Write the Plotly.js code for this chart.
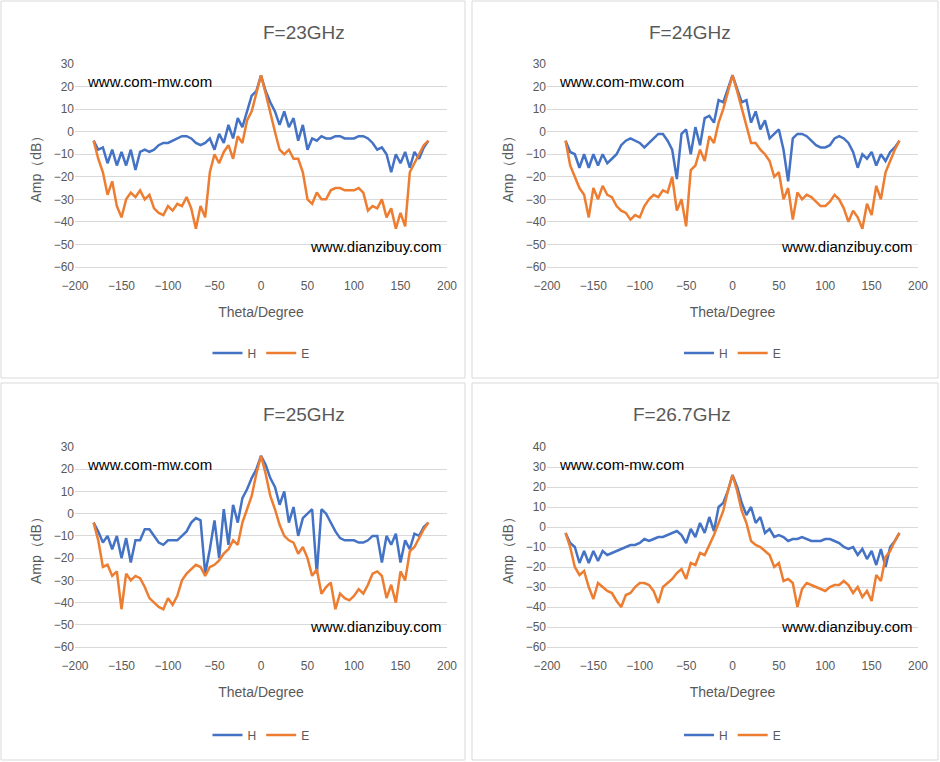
<!DOCTYPE html>
<html><head><meta charset="utf-8">
<script src="https://cdn.plot.ly/plotly-3.0.1.min.js"></script>
<style>body{margin:0;background:#fff}#c{width:940px;height:762px}</style>
</head><body><div id="c"></div>
<script>
const theta=[];for(let t=-180;t<=180;t+=5)theta.push(t);
const titles=["F=23GHz","F=24GHz","F=25GHz","F=26.7GHz"];
const h23=[-4,-8,-7,-14,-8,-15,-9,-15,-8,-17,-9,-8,-9,-8,-6,-5,-5,-4,-3,-2,-2,-3,-5,-6,-5,-3,-8,-1,-5,3,-3,6,2,9,16,18,25,18,13,9,3,9,2,6,-4,3,-8,-3,-4,-2,-3,-3,-2,-2,-3,-3,-3,-2,-2,-3,-5,-8,-7,-10,-18,-10,-14,-9,-16,-9,-12,-7,-4];
const e23=[-4,-12,-18,-28,-22,-33,-38,-30,-27,-29,-26,-30,-28,-34,-36,-37,-33,-35,-32,-33,-29,-34,-43,-33,-38,-18,-10,-14,-9,-6,-12,-2,-5,5,9,17,25,17,8,0,-8,-10,-8,-12,-12,-18,-30,-32,-27,-30,-30,-26,-25,-25,-26,-26,-26,-25,-27,-35,-33,-34,-30,-38,-34,-43,-36,-42,-18,-14,-10,-6,-4];
const h24=[-4,-9,-10,-16,-10,-16,-10,-15,-10,-14,-12,-10,-6,-4,-3,-4,-5,-7,-5,-3,-1,-1,-4,-8,-21,-1,1,-10,2,-6,6,7,4,14,13,19,25,19,13,14,4,9,1,5,-3,-1,1,-8,-22,-3,-1,-1,-2,-4,-6,-7,-7,-6,-3,-2,-3,-5,-9,-16,-10,-12,-9,-15,-10,-13,-9,-7,-4];
const e24=[-4,-15,-20,-25,-28,-38,-25,-30,-24,-28,-29,-33,-35,-36,-39,-37,-38,-33,-30,-28,-29,-26,-27,-20,-35,-30,-42,-17,-15,-8,-13,-2,-5,4,10,18,25,18,10,3,-5,-5,-8,-10,-13,-20,-18,-30,-25,-39,-27,-30,-28,-29,-31,-33,-33,-31,-28,-30,-34,-40,-35,-38,-43,-32,-37,-24,-30,-18,-13,-8,-4];
const h25=[-4,-8,-13,-10,-16,-10,-20,-11,-22,-12,-12,-7,-7,-10,-13,-14,-12,-12,-12,-10,-8,-4,-2,-3,-27,-16,-3,-20,2,-14,4,-4,7,11,16,20,26,22,16,12,4,10,-4,3,-10,-2,0,2,-27,2,0,-4,-8,-11,-12,-12,-12,-13,-13,-12,-10,-10,-22,-10,-14,-9,-22,-12,-16,-9,-10,-6,-4];
const e25=[-4,-12,-24,-23,-28,-26,-43,-27,-30,-28,-29,-33,-38,-40,-42,-43,-38,-41,-37,-30,-27,-25,-23,-24,-28,-24,-23,-21,-18,-16,-12,-14,-4,2,8,18,26,18,8,2,-5,-10,-12,-13,-18,-15,-20,-28,-25,-36,-33,-31,-43,-36,-38,-39,-37,-34,-36,-32,-27,-26,-28,-38,-32,-40,-26,-30,-17,-15,-11,-7,-4];
const h267=[-3,-8,-10,-18,-12,-18,-12,-17,-12,-14,-13,-12,-11,-10,-9,-9,-8,-6,-7,-6,-5,-5,-4,-3,-2,-4,-8,-1,-5,2,-3,5,-2,10,12,18,26,20,12,6,10,2,5,-3,-1,-5,-4,-5,-7,-6,-6,-5,-6,-7,-7,-7,-6,-6,-7,-8,-10,-11,-10,-14,-11,-16,-12,-19,-11,-20,-10,-7,-3];
const e267=[-3,-10,-20,-24,-22,-30,-36,-28,-30,-32,-33,-37,-40,-34,-33,-30,-28,-28,-29,-32,-38,-30,-28,-26,-23,-21,-26,-18,-19,-13,-14,-9,-4,2,8,18,26,18,8,2,-7,-9,-10,-12,-14,-20,-18,-27,-26,-28,-40,-31,-28,-29,-30,-31,-32,-30,-29,-29,-27,-29,-33,-30,-35,-32,-37,-24,-27,-15,-12,-7,-3];
const H=[h23,h24,h25,h267],E=[e23,e24,e25,e267];
const W=940,Ht=762;
const panels=[
 {x0:75,x1:447,yt:64,yb:267,ymin:-60,ymax:30,dt:10,box:[1,1,465,378]},
 {x0:547,x1:918,yt:64,yb:267,ymin:-60,ymax:30,dt:10,box:[472,1,938,378]},
 {x0:75,x1:447,yt:447,yb:647,ymin:-60,ymax:30,dt:10,box:[1,383,465,760]},
 {x0:547,x1:918,yt:447,yb:647,ymin:-60,ymax:40,dt:10,box:[472,383,938,760]}];
const data=[],layout={width:W,height:Ht,margin:{l:0,r:0,t:0,b:0},paper_bgcolor:'#fff',plot_bgcolor:'#fff',
 font:{family:'Liberation Sans, Arial',color:'#595959'},shapes:[],annotations:[]};
panels.forEach((p,i)=>{
 const n=i+1,s=(n>1?n:''),lg='legend'+s;
 data.push({x:theta,y:H[i],name:'H',mode:'lines',line:{color:'#4472C4',width:2.5},xaxis:'x'+s,yaxis:'y'+s,legend:lg});
 data.push({x:theta,y:E[i],name:'E',mode:'lines',line:{color:'#ED7D31',width:2.5},xaxis:'x'+s,yaxis:'y'+s,legend:lg});
 layout['xaxis'+s]={domain:[p.x0/W,p.x1/W],range:[-200,200],dtick:50,showgrid:false,zeroline:false,showline:true,linecolor:'#d9d9d9',
  anchor:'y'+s,tickfont:{size:12,color:'#595959'},ticks:'',ticklabelstandoff:8,title:{text:'Theta/Degree',font:{size:14,color:'#595959'},standoff:14}};
 layout['yaxis'+s]={domain:[1-p.yb/Ht,1-p.yt/Ht],range:[p.ymin,p.ymax],dtick:p.dt,showgrid:true,gridcolor:'#d9d9d9',zeroline:false,
  anchor:'x'+s,tickfont:{size:12,color:'#595959'},title:{text:'Amp（dB）',font:{size:14,color:'#595959'},standoff:8}};
 const cx=(p.x0+p.x1)/2/W;
 layout[lg]={orientation:'h',x:cx,xanchor:'center',y:1-(p.box[1]+352)/Ht,yanchor:'middle',font:{size:12,color:'#595959'},bgcolor:'rgba(0,0,0,0)'};
 layout.shapes.push({type:'rect',xref:'paper',yref:'paper',x0:p.box[0]/W,x1:p.box[2]/W,y0:1-p.box[3]/Ht,y1:1-p.box[1]/Ht,line:{color:'#d9d9d9',width:1}});
 layout.annotations.push({text:titles[i],xref:'paper',yref:'paper',x:(p.x0+p.x1)/2/W,y:1-(p.box[1]+31)/Ht,yanchor:'middle',showarrow:false,font:{size:19,color:'#595959'}});
 layout.annotations.push({text:'www.com-mw.com',xref:'paper',yref:'paper',x:(p.x0+10)/W,xanchor:'left',y:1-(p.yt+17)/Ht,yanchor:'middle',showarrow:false,font:{size:15,color:'#000'}});
 layout.annotations.push({text:'www.dianzibuy.com',xref:'paper',yref:'paper',x:(p.x1-3)/W,xanchor:'right',y:1-(p.yb-21)/Ht,yanchor:'middle',showarrow:false,font:{size:15,color:'#000'}});
});
Plotly.newPlot('c',data,layout,{staticPlot:true});
</script></body></html>
